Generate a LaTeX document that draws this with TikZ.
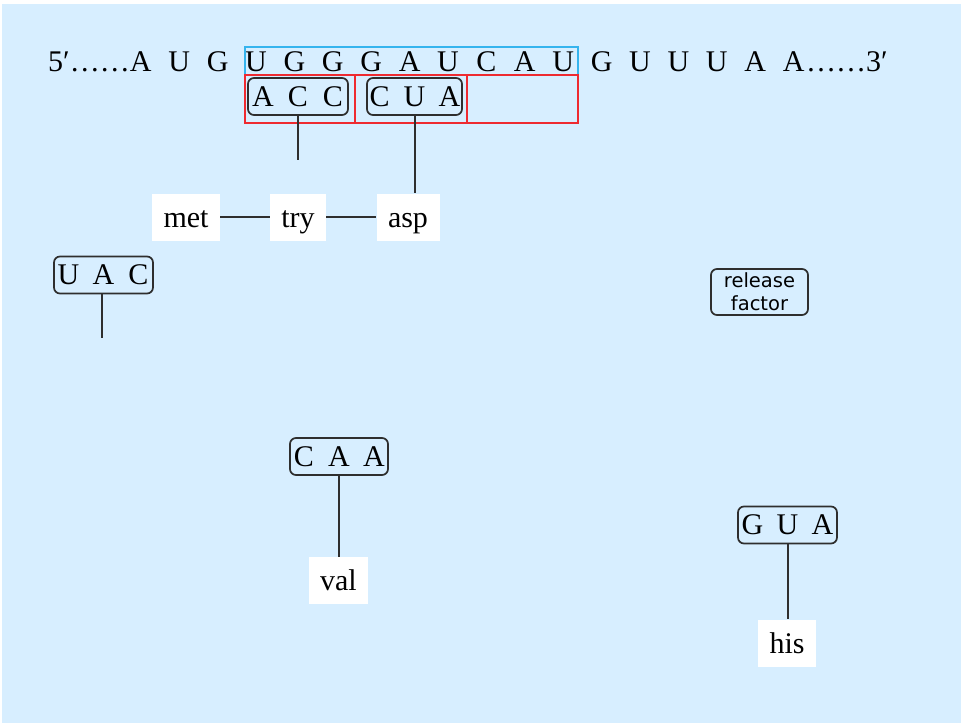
\documentclass[tikz,border=0pt]{standalone}
\usepackage{fontspec}
\setmainfont{Liberation Serif}
\newfontfamily\labelsans{DejaVu Sans}
\definecolor{bgblue}{HTML}{D7EEFF}
\definecolor{framecyan}{HTML}{35B4EE}
\definecolor{framered}{HTML}{EE2A30}
\definecolor{inkgray}{HTML}{2E2E2E}
% three bases set at a fixed pitch inside a fixed-width box
\newcommand{\triplet}[4]{\makebox[#1][c]{\makebox[35pt]{#2}\makebox[35pt]{#3}\makebox[35pt]{#4}}}
\begin{document}
\begin{tikzpicture}[x=1pt,y=-1pt,
  basefont/.style={font=\fontsize{30}{30}\selectfont},
  base/.style={basefont,inner sep=0pt,anchor=base},
  anticodon/.style={basefont,draw=inkgray,line width=1.7pt,rounded corners=6pt,
    inner sep=0pt,minimum height=37pt,fill=none},
  aminoacid/.style={basefont,fill=white,inner xsep=11.5pt,inner ysep=0pt,
    minimum height=47pt,text height=20pt,text depth=0pt},
  readframe/.style={draw=framecyan,line width=1.6pt,inner sep=0pt},
  codonframe/.style={draw=framered,line width=1.6pt,inner sep=0pt,minimum height=48pt},
  link/.style={draw=inkgray,line width=2pt},
  factor/.style={draw=inkgray,line width=1.7pt,rounded corners=6pt,inner sep=0pt,
    minimum width=97pt,minimum height=46pt,align=center,
    font=\labelsans\fontsize{19.5}{23}\selectfont}]
\useasboundingbox (0,0) rectangle (961,723);
\fill[bgblue] (2,4) rectangle (961,723);

% mRNA strand
\node[base,anchor=base west] (five) at (48,71) {5′……};
\foreach \letter [count=\i from -3] in {A,U,G,U,G,G,G,A,U,C,A,U,G,U,U,U,A,A}
  \node[base] (s\i) at ({256+38.4*\i},71) {\letter};
\node[base,anchor=base west] (three) at (806,71) {……3′};

% reading window and codon frames
\node[readframe,minimum width=333pt,minimum height=28pt] (window) at (411.5,61) {};
\node[codonframe,minimum width=110pt] (c1) at (300,99) {};
\node[codonframe,minimum width=112pt] (c2) at (411,99) {};
\node[codonframe,minimum width=111pt] (c3) at (522.5,99) {};

% tRNA anticodons
\node[anticodon] (acc) at (298,96.5) {\triplet{100pt}{A}{C}{C}};
\node[anticodon] (cua) at (414.5,96.5) {\triplet{95pt}{C}{U}{A}};
\node[anticodon] (uac) at (103.5,275) {\triplet{99pt}{U}{A}{C}};
\node[anticodon] (caa) at (339,456.5) {\triplet{98pt}{C}{A}{A}};
\node[anticodon] (gua) at (787.5,525) {\triplet{99pt}{G}{U}{A}};

% amino acids
\node[aminoacid] (met) at (186,217) {met};
\node[aminoacid] (try) at (298,217) {try};
\node[aminoacid] (asp) at (408,217) {asp};
\node[aminoacid] (val) at (338.5,580.5) {val};
\node[aminoacid] (his) at (787,643) {his};

\node[factor] (rf) at (759.5,292) {release\\factor};

% free ends of the tRNA stems
\coordinate (accend) at (298,160);
\coordinate (uacend) at (102,338);

% connectors
\draw[link] (acc.south) -- (accend);
\draw[link] (cua.south) -- (cua.south |- asp.north);
\draw[link] (uac.south -| uacend) -- (uacend);
\draw[link] (caa.south) -- (caa.south |- val.north);
\draw[link] (gua.south) -- (gua.south |- his.north);
\draw[link] (met.east) -- (try.west);
\draw[link] (try.east) -- (asp.west);
\end{tikzpicture}
\end{document}
